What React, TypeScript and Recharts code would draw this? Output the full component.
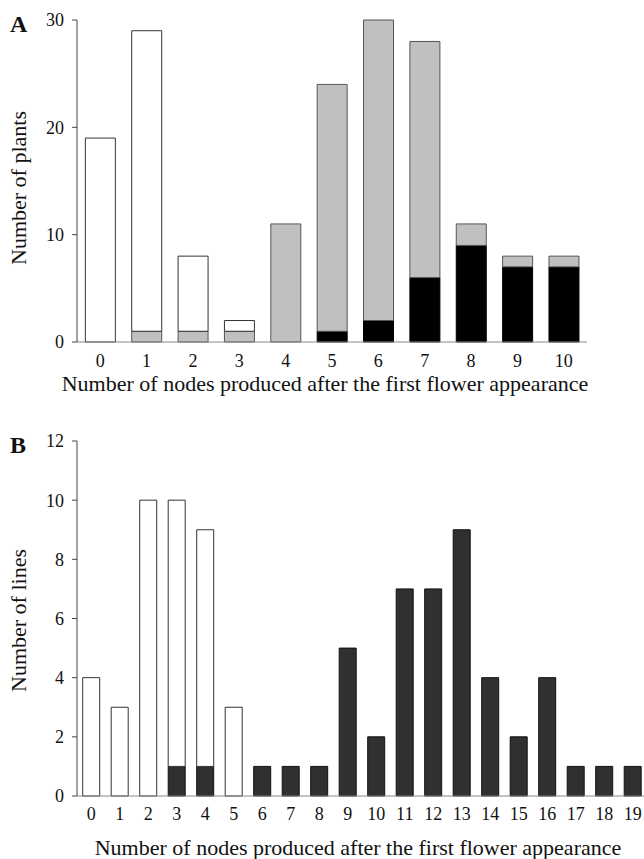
import React from 'react';
import { BarChart, Bar, XAxis, YAxis } from 'recharts';

const nodesA = ['0', '1', '2', '3', '4', '5', '6', '7', '8', '9', '10'];
const blackA = [0, 0, 0, 0, 0, 1, 2, 6, 9, 7, 7];
const grayA = [0, 1, 1, 1, 11, 23, 28, 22, 2, 1, 1];
const whiteA = [19, 28, 7, 1, 0, 0, 0, 0, 0, 0, 0];
const ticksA = [0, 10, 20, 30];

const nodesB = ['0', '1', '2', '3', '4', '5', '6', '7', '8', '9', '10', '11', '12', '13', '14', '15', '16', '17', '18', '19'];
const darkB = [0, 0, 0, 1, 1, 0, 1, 1, 1, 5, 2, 7, 7, 9, 4, 2, 4, 1, 1, 1];
const whiteB = [4, 3, 10, 9, 8, 3, 0, 0, 0, 0, 0, 0, 0, 0, 0, 0, 0, 0, 0, 0];
const ticksB = [0, 2, 4, 6, 8, 10, 12];

const xTitle = 'Number of nodes produced after the first flower appearance';
const yTitleA = 'Number of plants';
const yTitleB = 'Number of lines';

const dataA = nodesA.map((n, i) => ({ node: n, black: blackA[i], gray: grayA[i], white: whiteA[i] }));
const dataB = nodesB.map((n, i) => ({ node: n, dark: darkB[i], white: whiteB[i] }));

const FONT = '"Liberation Serif", "Times New Roman", serif';
const tickStyle = { fontSize: 18, fill: '#111', fontFamily: FONT };

const YTitle = (props: any) => {
  const { viewBox, value, shift } = props;
  const cx = 26;
  const cy = viewBox.y + viewBox.height / 2 + (shift || 0);
  return (
    <text
      x={cx}
      y={cy}
      transform={`rotate(-90 ${cx} ${cy})`}
      textAnchor="middle"
      fontSize={22}
      fontFamily={FONT}
      fill="#111"
    >
      {value}
    </text>
  );
};

export default function App() {
  return (
    <div style={{ position: 'absolute', left: 0, top: 0, width: 644, height: 859, overflow: 'hidden', background: '#fff' }}>
      <div style={{ position: 'absolute', left: 0, top: 0 }}>
        <BarChart
          width={644}
          height={400}
          data={dataA}
          margin={{ top: 20, right: 57, bottom: 8, left: 0 }}
          barCategoryGap="18%"
        >
          <XAxis
            dataKey="node"
            interval={0}
            tickLine={false}
            tickSize={0}
            tickMargin={12}
            height={50}
            axisLine={{ stroke: '#888' }}
            tick={tickStyle}
            label={{ value: xTitle, position: 'insideBottom', offset: 1, dx: -7, fontSize: 22, fill: '#111', fontFamily: FONT }}
          />
          <YAxis
            width={77}
            domain={[0, 30]}
            ticks={ticksA}
            interval={0}
            tickSize={5}
            tickMargin={8}
            axisLine={{ stroke: '#444' }}
            tickLine={{ stroke: '#444' }}
            tick={tickStyle}
            label={<YTitle value={yTitleA} shift={7} />}
          />
          <Bar dataKey="black" stackId="a" fill="#000" stroke="#000" isAnimationActive={false} />
          <Bar dataKey="gray" stackId="a" fill="#c0c0c0" stroke="#555" isAnimationActive={false} />
          <Bar dataKey="white" stackId="a" fill="#fff" stroke="#333" isAnimationActive={false} />
        </BarChart>
      </div>
      <div style={{ position: 'absolute', left: 0, top: 400 }}>
        <BarChart
          width={660}
          height={459}
          data={dataB}
          margin={{ top: 41, right: 13, bottom: 3, left: 0 }}
          barCategoryGap="20%"
        >
          <XAxis
            dataKey="node"
            interval={0}
            tickLine={false}
            tickSize={0}
            tickMargin={11}
            height={60}
            axisLine={{ stroke: '#888' }}
            tick={tickStyle}
            label={{ value: xTitle, position: 'insideBottom', offset: 1, dx: -4, fontSize: 22, fill: '#111', fontFamily: FONT }}
          />
          <YAxis
            width={77}
            domain={[0, 12]}
            ticks={ticksB}
            interval={0}
            tickSize={5}
            tickMargin={8}
            axisLine={{ stroke: '#444' }}
            tickLine={{ stroke: '#444' }}
            tick={tickStyle}
            label={<YTitle value={yTitleB} shift={2} />}
          />
          <Bar dataKey="dark" stackId="b" fill="#303030" stroke="#111" isAnimationActive={false} />
          <Bar dataKey="white" stackId="b" fill="#fff" stroke="#333" isAnimationActive={false} />
        </BarChart>
      </div>
      <svg width={644} height={859} style={{ position: 'absolute', left: 0, top: 0, pointerEvents: 'none' }}>
        <text x={10} y={32} fontSize={24} fontWeight="bold" fontFamily={FONT} fill="#111">A</text>
        <text x={10} y={453} fontSize={24} fontWeight="bold" fontFamily={FONT} fill="#111">B</text>
      </svg>
    </div>
  );
}
